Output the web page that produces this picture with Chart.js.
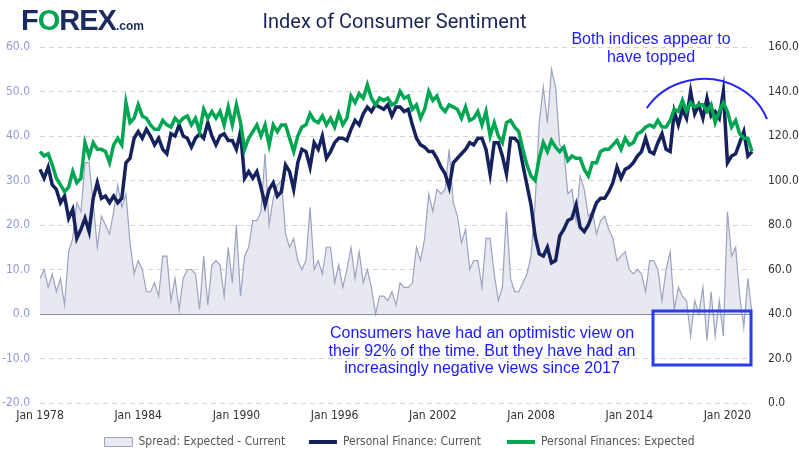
<!DOCTYPE html>
<html>
<head>
<meta charset="utf-8">
<script src="https://cdn.jsdelivr.net/npm/chart.js@4.4.1/dist/chart.umd.min.js"></script>
<style>
html, body { margin: 0; padding: 0; background: #fff; }
#wrap { position: relative; width: 799px; height: 457px; overflow: hidden; }
canvas { position: absolute; left: 0; top: 0; }
#logo { position: absolute; left: 21px; top: 4px; font: bold 29px 'Liberation Sans', Arial, sans-serif; letter-spacing: -1px; color: #1c2b5e; }
#logo .o { color: #00a552; }
#logo .com { font-size: 12px; letter-spacing: 0; }
#title { position: absolute; left: 0; width: 789px; top: 9px; text-align: center; font: 20px 'Liberation Sans Narrow', Roboto, sans-serif; color: #1b2554; }
</style>
</head>
<body>
<div id="wrap">
  <canvas id="chart" width="799" height="457"></canvas>
  <div id="logo">F<span class="o">O</span>REX<span class="com">.com</span></div>
  <div id="title">Index of Consumer Sentiment</div>
</div>
<script>
// quarterly readings, Jan 1978 .. Jul 2021
const startYear = 1978;
const quarterNames = ['Jan', 'Apr', 'Jul', 'Oct'];
const tickLabels = ['Jan 1978', 'Jan 1984', 'Jan 1990', 'Jan 1996', 'Jan 2002', 'Jan 2008', 'Jan 2014', 'Jan 2020'];

// Personal Finances: Expected (right axis)
const expected = [
  113,111,112,107,101,98,95,97,104,99,
  101,117,111,117,114,114,113,108,116,119,
  116,135,126,128,134,129,128,125,123,123,
  127,125,124,128,126,128,129,125,128,122,
  132,128,131,128,131,125,133,125,134,126,
  114,119,122,125,120,125,116,125,122,125,
  125,119,113,120,124,125,130,127,126,129,
  125,128,124,130,125,128,138,135,139,137,
  143,137,134,137,136,137,134,135,140,137,
  138,132,134,128,132,140,136,138,133,131,
  134,133,132,128,133,127,128,131,125,131,
  120,126,120,117,126,127,124,122,114,107,
  102,100,110,117,113,118,115,113,115,109,
  111,110,110,105,102,108,108,113,114,114,
  116,118,114,119,116,117,121,122,124,125,
  124,127,124,124,127,132,131,136,131,135,
  133,134,134,131,134,126,131,135,131,124,
  127,121,119,119,113
];

// Personal Finance: Current (right axis)
const current = [
  105,101,106,98,96,90,93,83,87,74,
  78,83,77,92,99,92,93,90,93,90,
  92,108,110,119,122,119,123,120,116,119,
  114,112,121,120,125,120,119,115,119,121,
  119,126,120,116,120,121,118,118,114,122,
  101,104,101,104,97,89,96,99,93,95,
  107,104,96,108,114,113,106,117,114,120,
  110,113,117,119,119,118,123,127,125,130,
  133,131,134,133,132,134,129,133,133,131,
  132,125,119,116,115,113,113,110,106,103,
  97,108,110,112,114,117,116,119,119,114,
  103,117,117,111,103,119,119,117,107,98,
  89,75,67,66,70,63,64,75,78,82,
  83,89,79,77,80,85,90,92,92,95,
  99,106,101,105,106,108,111,113,119,113,
  112,117,121,114,113,131,125,132,128,140,
  130,134,128,137,129,131,128,140,108,111,
  112,117,122,111,113
];

const spread = expected.map((v, i) => v - current[i]);
const labels = expected.map((v, i) => quarterNames[i % 4] + ' ' + (startYear + Math.floor(i / 4)));

const tickFont = { family: "'Liberation Sans Narrow', 'DejaVu Sans Condensed', Roboto, sans-serif", size: 12 };

const zeroLine = {
  id: 'zeroLine',
  afterDatasetsDraw(chart) {
    const c = chart.ctx, a = chart.chartArea;
    const y = Math.round(chart.scales.yL.getPixelForValue(0)) + 0.5;
    c.save();
    c.strokeStyle = '#868da8';
    c.lineWidth = 1.2;
    c.beginPath(); c.moveTo(a.left, y); c.lineTo(a.right, y); c.stroke();
    c.restore();
  }
};

const notes = {
  id: 'notes',
  afterDraw(chart) {
    const c = chart.ctx;
    c.save();
    c.fillStyle = '#1a1aff';
    c.font = "16px 'Liberation Sans', Arial, sans-serif";
    c.textAlign = 'center';
    c.textBaseline = 'middle';
    c.fillText('Both indices appear to', 651, 40);
    c.fillText('have topped', 651, 58);
    const lines = ['Consumers have had an optimistic view on',
                   'their 92% of the time. But they have had an',
                   'increasingly negative views since 2017'];
    lines.forEach((t, i) => c.fillText(t, 482, 334 + i * 17.5));

    // arc over the top
    c.strokeStyle = '#2626f2';
    c.lineWidth = 2;
    c.beginPath();
    c.ellipse(704, 140, 67, 61, 0, -148.7 * Math.PI / 180, -20 * Math.PI / 180);
    c.stroke();

    // box round the negative spread
    c.strokeStyle = '#2b3bf0';
    c.lineWidth = 3;
    c.strokeRect(653, 311, 98, 54);
    c.restore();
  }
};

// extra gap after the first two legend entries
const legendGap = ['\u2002\u2002', '\u2002\u2002\u2009', ''];

new Chart(document.getElementById('chart').getContext('2d'), {
  type: 'line',
  plugins: [zeroLine, notes],
  data: {
    labels: labels,
    datasets: [
      {
        label: 'Spread: Expected - Current',
        data: spread,
        yAxisID: 'yL',
        borderColor: '#9ba3c0',
        borderWidth: 1.2,
        backgroundColor: '#e8e9f0',
        fill: 'origin',
        pointRadius: 0,
        order: 3
      },
      {
        label: 'Personal Finance: Current',
        data: current,
        yAxisID: 'yR',
        borderColor: '#15225e',
        backgroundColor: '#15225e',
        borderWidth: 3.5,
        pointRadius: 0,
        order: 2
      },
      {
        label: 'Personal Finances: Expected',
        data: expected,
        yAxisID: 'yR',
        borderColor: '#00a651',
        backgroundColor: '#00a651',
        borderWidth: 3.5,
        pointRadius: 0,
        order: 1
      }
    ]
  },
  options: {
    responsive: false,
    animation: false,
    layout: { padding: { top: 47, bottom: -1 } },
    plugins: {
      tooltip: { enabled: false },
      legend: {
        position: 'bottom',
        labels: {
          font: tickFont,
          color: '#555',
          usePointStyle: true,
          pointStyleWidth: 28,
          boxHeight: 9,
          padding: 13,
          sort: (a, b) => a.datasetIndex - b.datasetIndex,
          generateLabels(chart) {
            return chart.data.datasets.map((ds, i) => ({
              text: ds.label + legendGap[i],
              datasetIndex: i,
              fillStyle: i === 0 ? ds.backgroundColor : ds.borderColor,
              strokeStyle: i === 0 ? '#9ba3c0' : ds.borderColor,
              lineWidth: i === 0 ? 1 : 4,
              pointStyle: i === 0 ? 'rect' : 'line',
              fontColor: '#555'
            }));
          }
        }
      }
    },
    scales: {
      x: {
        grid: { display: false, drawTicks: false },
        border: { display: false },
        afterFit: s => { s.height = 20; },
        ticks: {
          autoSkip: false,
          maxRotation: 0,
          padding: 6,
          color: '#333',
          font: tickFont,
          callback: function (v, i) {
            const lab = labels[i];
            return tickLabels.includes(lab) ? lab : '';
          }
        }
      },
      yL: {
        position: 'left',
        min: -20,
        max: 60,
        afterFit: s => { s.width = 40; },
        grid: { color: '#d4d4d4', drawTicks: false },
        border: { display: false, dash: [5, 4] },
        ticks: {
          stepSize: 10,
          padding: 10,
          color: '#8f9bd8',
          font: tickFont,
          callback: v => v.toFixed(1)
        }
      },
      yR: {
        position: 'right',
        min: 0,
        max: 160,
        afterFit: s => { s.width = 47; },
        grid: { display: false, drawTicks: false },
        border: { display: false },
        ticks: {
          stepSize: 20,
          padding: 16,
          color: '#333',
          font: tickFont,
          callback: v => v.toFixed(1)
        }
      }
    }
  }
});
</script>
</body>
</html>
